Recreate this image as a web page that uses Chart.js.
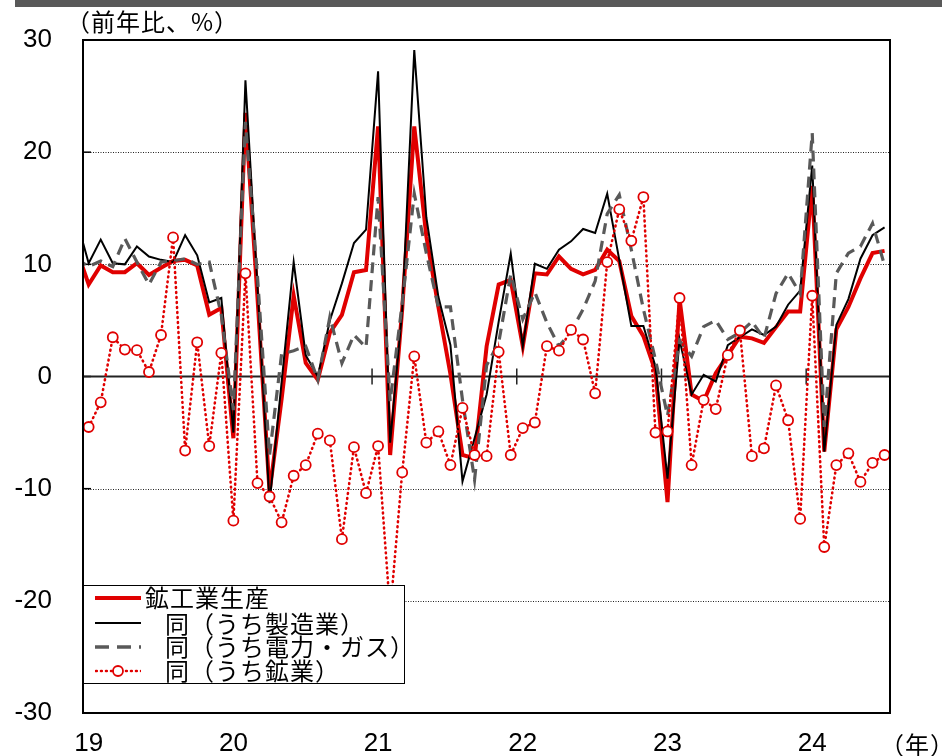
<!DOCTYPE html>
<html>
<head>
<meta charset="utf-8">
<script src="https://cdn.jsdelivr.net/npm/chart.js@4.4.1/dist/chart.umd.min.js"></script>
<style>
  body { margin: 0; background: #fff; }
  #wrap { position: relative; width: 942px; height: 756px; overflow: hidden; background: #fff; }
  #topbar { position: absolute; left: 15px; top: 0; width: 927px; height: 7px; background: #595959; }
  .jp { position: absolute; font-family: "Noto Sans CJK JP", sans-serif; font-size: 24px; line-height: 24px; letter-spacing: 1px; color: #000; white-space: nowrap; }
  #legend { position: absolute; left: 83px; top: 585px; width: 320px; height: 97px; border: 1.5px solid #000; background: #fff; }
  .sw { position: absolute; }
</style>
</head>
<body>
<div id="wrap">
  <canvas id="grafica" width="942" height="756"></canvas>
  <div id="topbar"></div>
  <div class="jp" style="left:66px; top:9px;">（前年比、%）</div>
  <div class="jp" style="left:880px; top:732px;">（年）</div>
  <div id="legend"></div>
  <svg class="sw" style="left:95px; top:592px;" width="46" height="12"><line x1="0" y1="6" x2="46" y2="6" stroke="#e00000" stroke-width="4"/></svg>
  <div class="jp" style="left:145px; top:585px;">鉱工業生産</div>
  <svg class="sw" style="left:95px; top:617px;" width="46" height="12"><line x1="0" y1="6" x2="46" y2="6" stroke="#000" stroke-width="2"/></svg>
  <div class="jp" style="left:165px; top:611px;">同（うち製造業）</div>
  <svg class="sw" style="left:95px; top:641px;" width="46" height="12"><line x1="0" y1="6" x2="46" y2="6" stroke="#595959" stroke-width="3.5" stroke-dasharray="14 8"/></svg>
  <div class="jp" style="left:165px; top:634px;">同（うち電力・ガス）</div>
  <svg class="sw" style="left:95px; top:665px;" width="46" height="12"><line x1="1" y1="6" x2="46" y2="6" stroke="#e00000" stroke-width="2.6" stroke-linecap="round" stroke-dasharray="0.8 4.2"/><circle cx="23" cy="6" r="5" fill="#fff" stroke="#e00000" stroke-width="1.8"/></svg>
  <div class="jp" style="left:165px; top:658px;">同（うち鉱業）</div>
</div>
<script>
// 2018年12月 ～ 2024年7月（月次、前年比%）
var meses = [];
for (var k = 0; k < 68; k++) {
    var yy = 2018 + Math.floor((k + 11) / 12);
    var mm = ((k + 11) % 12) + 1;
    meses.push(yy + '/' + mm);
}

var etiquetasAnio = ['19', '20', '21', '22', '23', '24'];

var mineriaIndustria = [11.3, 8.2, 9.9, 9.3, 9.3, 10.1, 9.05, 9.7, 10.3, 10.4, 9.9, 5.5, 6.1,
    -5.5, 23.5, 7.0, -10.3, -2.0, 7.2, 1.2, -0.3, 3.9, 5.5, 9.3, 9.5,
    22.3, -7.0, 6.0, 22.3, 12.5, 6.2, 0.2, -7.0, -7.3, 2.7, 8.2, 8.6,
    2.7, 9.2, 9.1, 10.7, 9.6, 9.1, 9.5, 11.3, 10.3, 5.4, 3.6, 0.45,
    -11.2, 6.9, -1.6, -2.2, 0.3, 1.9, 3.55, 3.4, 3.0, 4.4, 5.8, 5.8,
    17.0, -6.7, 4.2, 6.2, 8.75, 11.0, 11.2];

var manufactura = [14.0, 10.1, 12.2, 10.1, 10.0, 11.6, 10.7, 10.4, 10.2, 12.6, 10.8, 6.6, 7.0,
    -5.0, 26.4, 8.0, -11.3, -0.5, 10.2, 1.9, 0.0, 5.0, 8.3, 11.9, 13.1,
    27.2, -5.9, 5.9, 29.1, 14.2, 7.1, 2.8, -9.35, -5.5, -1.6, 4.9, 10.95,
    2.7, 10.05, 9.6, 11.3, 12.05, 13.15, 12.8, 16.3, 10.4, 4.5, 4.5, 0.9,
    -9.1, 3.3, -1.6, 0.15, -0.45, 2.8, 3.5, 4.2, 3.7, 4.45, 6.4, 7.65,
    18.8, -6.7, 4.6, 6.9, 10.5, 12.6, 13.3];

var electricidadGas = [10.5, 9.8, 10.3, 9.8, 12.3, 10.2, 8.2, 10.2, 10.3, 10.5, 10.0, 10.2, 5.5,
    -3.0, 22.7, 8.9, -7.0, 2.0, 2.3, 2.7, -0.3, 5.3, 1.2, 3.7, 2.6,
    16.0, -2.2, 6.5, 16.3, 11.0, 6.2, 6.2, -2.1, -9.2, 1.0, 3.0, 9.1,
    5.1, 7.5, 4.8, 2.7, 4.0, 6.0, 8.5, 14.5, 16.2, 11.3, 6.0, 1.5,
    -3.5, 3.2, 1.8, 4.45, 5.0, 3.3, 3.9, 4.9, 3.4, 7.4, 9.2, 7.4,
    21.7, -4.5, 9.2, 11.0, 11.6, 13.65, 9.9];

var mineria = [null, -4.5, -2.3, 3.5, 2.4, 2.35, 0.4, 3.7, 12.4, -6.6, 3.05, -6.2, 2.1,
    -12.85, 9.2, -9.5, -10.7, -13.0, -8.85, -7.9, -5.1, -5.7, -14.5, -6.3, -10.4,
    -6.2, -21.0, -8.55, 1.8, -5.9, -4.9, -7.9, -2.8, -7.0, -7.1, 2.2, -7.0,
    -4.6, -4.1, 2.7, 2.3, 4.15, 3.3, -1.5, 10.2, 14.9, 12.1, 16.0, -5.0,
    -4.9, 7.0, -7.9, -2.1, -2.9, 1.9, 4.1, -7.1, -6.4, -0.8, -3.9, -12.7,
    7.2, -15.2, -7.9, -6.85, -9.4, -7.7, -7.0];

var lineasGuia = [20, 10, -10, -20];
var cortesAnio = [11.5, 23.5, 35.5, 47.5, 59.5];

function puntos(serie) {
    return serie.map(function (v, i) { return { x: i - 1, y: v }; });
}

var decorado = {
    id: 'decorado',
    beforeDatasetsDraw: function (chart) {
        var ctx = chart.ctx, a = chart.chartArea;
        var sx = chart.scales.x, sy = chart.scales.y;
        ctx.save();
        ctx.strokeStyle = '#222';
        ctx.lineWidth = 1;
        ctx.setLineDash([1, 1.5]);
        lineasGuia.forEach(function (v) {
            var py = Math.round(sy.getPixelForValue(v)) + 0.5;
            ctx.beginPath(); ctx.moveTo(a.left, py); ctx.lineTo(a.right, py); ctx.stroke();
        });
        ctx.setLineDash([]);
        ctx.strokeStyle = '#000';
        ctx.lineWidth = 1.5;
        [30, 20, 10, 0, -10, -20, -30].forEach(function (v) {
            var py = sy.getPixelForValue(v);
            ctx.beginPath(); ctx.moveTo(a.left, py); ctx.lineTo(a.left + 8, py); ctx.stroke();
        });
        var y0 = sy.getPixelForValue(0);
        ctx.lineWidth = 2;
        ctx.strokeStyle = '#222';
        ctx.beginPath(); ctx.moveTo(a.left, y0); ctx.lineTo(a.right, y0); ctx.stroke();
        ctx.lineWidth = 1.5;
        cortesAnio.forEach(function (v) {
            var px = sx.getPixelForValue(v);
            ctx.beginPath(); ctx.moveTo(px, y0 - 8); ctx.lineTo(px, y0 + 8); ctx.stroke();
        });
        ctx.restore();
    },
    afterDatasetsDraw: function (chart) {
        var ctx = chart.ctx, a = chart.chartArea;
        ctx.save();
        ctx.strokeStyle = '#000';
        ctx.lineWidth = 2;
        ctx.strokeRect(a.left, a.top, a.right - a.left, a.bottom - a.top);
        ctx.restore();
    }
};

Chart.defaults.font.family = "'Liberation Sans', Arial, sans-serif";
Chart.defaults.color = '#000';

var mychart = new Chart(document.getElementById('grafica'), {
    type: 'line',
    data: {
        datasets: [{
            label: '鉱工業生産',
            data: puntos(mineriaIndustria),
            borderColor: '#e00000',
            borderWidth: 4,
            pointRadius: 0,
            order: 4
        }, {
            label: '同（うち製造業）',
            data: puntos(manufactura),
            borderColor: '#000',
            borderWidth: 2,
            pointRadius: 0,
            order: 3
        }, {
            label: '同（うち電力・ガス）',
            data: puntos(electricidadGas),
            borderColor: '#595959',
            borderWidth: 3.2,
            borderDash: [11, 7],
            pointRadius: 0,
            order: 2
        }, {
            label: '同（うち鉱業）',
            data: puntos(mineria),
            borderColor: '#e00000',
            borderWidth: 2.6,
            borderDash: [0.8, 4.2],
            borderCapStyle: 'round',
            pointRadius: 5,
            pointBackgroundColor: '#fff',
            pointBorderColor: '#e00000',
            pointBorderWidth: 1.8,
            order: 1
        }]
    },
    options: {
        responsive: false,
        animation: false,
        layout: { padding: { top: 40, right: 52, bottom: 0, left: 0 } },
        plugins: { legend: { display: false }, tooltip: { enabled: false } },
        scales: {
            x: {
                type: 'linear',
                min: -0.47,
                max: 66.45,
                grid: { display: false, drawTicks: false },
                border: { display: false },
                afterFit: function (s) {
                    s.height = 43;
                    s.paddingLeft = 0; s.paddingRight = 0;
                },
                afterBuildTicks: function (s) {
                    s.ticks = etiquetasAnio.map(function (t, i) { return { value: i * 12 }; });
                },
                ticks: {
                    autoSkip: false,
                    maxRotation: 0,
                    padding: 15,
                    font: { size: 26 },
                    callback: function (v) { return etiquetasAnio[Math.round(v / 12)]; }
                }
            },
            y: {
                min: -30,
                max: 30,
                grid: { display: false, drawTicks: false },
                border: { display: false },
                afterFit: function (s) {
                    s.width = 83;
                    s.paddingTop = 0; s.paddingBottom = 0;
                },
                ticks: {
                    stepSize: 10,
                    padding: 31,
                    font: { size: 26 }
                }
            }
        }
    },
    plugins: [decorado]
});
</script>
</body>
</html>
